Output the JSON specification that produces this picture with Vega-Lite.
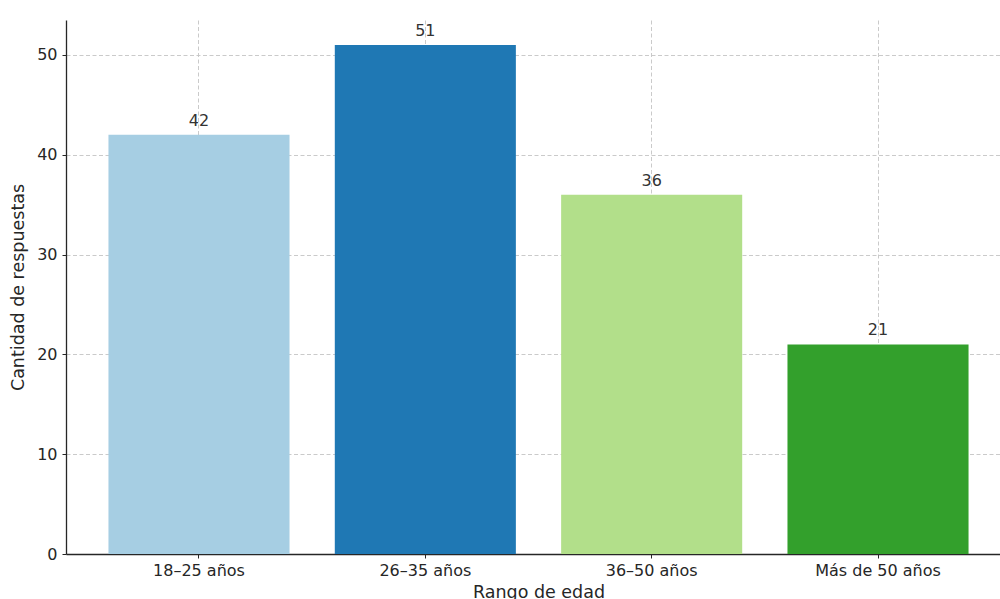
{
  "$schema": "https://vega.github.io/schema/vega-lite/v6.json",
  "width": 945,
  "height": 534,
  "autosize": {"type": "none"},
  "padding": {"left": 66, "top": 20, "right": 2, "bottom": 45},
  "background": "white",
  "config": {
    "font": "DejaVu Sans",
    "view": {"stroke": null},
    "axis": {
      "labelFont": "DejaVu Sans",
      "titleFont": "DejaVu Sans",
      "labelFontSize": 16,
      "titleFontSize": 17.5,
      "titleFontWeight": "normal",
      "labelColor": "#262626",
      "titleColor": "#262626",
      "domainColor": "#262626",
      "domainWidth": 1.3,
      "tickColor": "#262626",
      "tickSize": 4,
      "tickWidth": 1,
      "gridColor": "#c4c4c4",
      "gridDash": [4, 2.5],
      "gridWidth": 0.9,
      "zindex": 1
    }
  },
  "data": {
    "values": [
      {"rango": "18–25 años", "respuestas": 42},
      {"rango": "26–35 años", "respuestas": 51},
      {"rango": "36–50 años", "respuestas": 36},
      {"rango": "Más de 50 años", "respuestas": 21}
    ]
  },
  "encoding": {
    "x": {
      "field": "rango",
      "type": "nominal",
      "sort": null,
      "scale": {"paddingInner": 0.2, "paddingOuter": 0.1876},
      "axis": {
        "title": "Rango de edad",
        "labelAngle": 0,
        "labelPadding": 4,
        "titlePadding": 5,
        "bandPosition": 0.5,
        "grid": true
      }
    },
    "y": {
      "field": "respuestas",
      "type": "quantitative",
      "scale": {"domain": [0, 53.5], "nice": false},
      "axis": {
        "title": "Cantidad de respuestas",
        "values": [0, 10, 20, 30, 40, 50],
        "labelPadding": 5,
        "titlePadding": 9,
        "grid": true
      }
    }
  },
  "layer": [
    {
      "mark": {"type": "bar"},
      "encoding": {
        "color": {
          "field": "rango",
          "type": "nominal",
          "sort": null,
          "scale": {
            "domain": ["18–25 años", "26–35 años", "36–50 años", "Más de 50 años"],
            "range": ["#a6cee3", "#1f78b4", "#b2df8a", "#33a02c"]
          },
          "legend": null
        }
      }
    },
    {
      "mark": {"type": "text", "baseline": "bottom", "dy": -6, "fontSize": 16, "color": "#333333", "font": "DejaVu Sans"},
      "encoding": {
        "text": {"field": "respuestas", "type": "quantitative"}
      }
    }
  ]
}
